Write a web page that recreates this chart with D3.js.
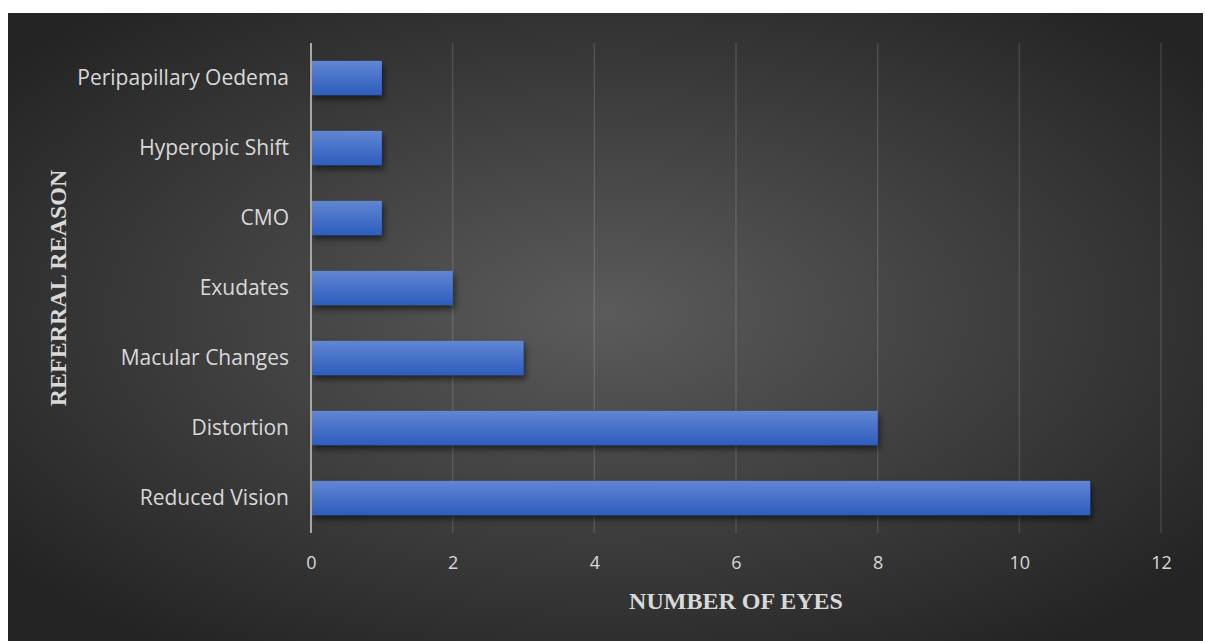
<!DOCTYPE html>
<meta charset="utf-8">
<style>
  body { margin: 0; background: #fff; }
  .tick text { fill: #d9d9d9; font-family: "Open Sans", Lato, sans-serif; }
  .title { fill: #d9d9d9; font-family: "Liberation Serif", "Times New Roman", serif; font-weight: bold; font-size: 24px; }
</style>
<svg width="1205" height="641"></svg>
<script src="https://d3js.org/d3.v7.min.js"></script>
<script>
  // data, bottom to top as drawn
  var reasons = ["Reduced Vision", "Distortion", "Macular Changes", "Exudates", "CMO", "Hyperopic Shift", "Peripapillary Oedema"];
  var eyes = [11, 8, 3, 2, 1, 1, 1];
  var xTicks = [0, 2, 4, 6, 8, 10, 12];

  var svg = d3.select("svg"),
    box = {x: 8, y: 13, w: 1195, h: 628};

  var defs = svg.append("defs");
  var bg = defs.append("radialGradient").attr("id", "bg")
    .attr("cx", "50%").attr("cy", "48%").attr("r", "65%");
  bg.append("stop").attr("offset", "0%").attr("stop-color", "#5b5b5b");
  bg.append("stop").attr("offset", "100%").attr("stop-color", "#232323");

  var barGrad = defs.append("linearGradient").attr("id", "barGrad")
    .attr("x1", 0).attr("y1", 0).attr("x2", 0).attr("y2", 1);
  barGrad.append("stop").attr("offset", "0%").attr("stop-color", "#6186d3");
  barGrad.append("stop").attr("offset", "100%").attr("stop-color", "#2e5dbd");

  var shadow = defs.append("filter").attr("id", "shadow")
    .attr("x", "-5%").attr("y", "-20%").attr("width", "115%").attr("height", "160%");
  shadow.append("feDropShadow").attr("dx", 2).attr("dy", 4).attr("stdDeviation", 3)
    .attr("flood-color", "#000").attr("flood-opacity", 0.55);

  svg.append("rect")
    .attr("x", box.x).attr("y", box.y)
    .attr("width", box.w).attr("height", box.h)
    .attr("fill", "url(#bg)");

  var x = d3.scaleLinear().domain([0, 12]).range([311, 1161]);
  var y = d3.scaleBand().domain(reasons).range([533, 43]).paddingInner(0.51).paddingOuter(0.255);

  // gridlines
  svg.append("g")
    .selectAll("line")
    .data(xTicks.slice(1))
    .enter().append("line")
    .attr("x1", function(d) { return x(d); })
    .attr("x2", function(d) { return x(d); })
    .attr("y1", 43).attr("y2", 533)
    .attr("stroke", "#fff")
    .attr("stroke-opacity", 0.13)
    .attr("stroke-width", 1.5);

  svg.append("g")
    .selectAll("rect")
    .data(reasons)
    .enter().append("rect")
    .attr("x", x(0))
    .attr("y", function(d) { return y(d); })
    .attr("width", function(d, i) { return x(eyes[i]) - x(0); })
    .attr("height", y.bandwidth())
    .attr("fill", "url(#barGrad)")
    .attr("filter", "url(#shadow)");

  // y axis line
  svg.append("line")
    .attr("x1", x(0)).attr("x2", x(0))
    .attr("y1", 43).attr("y2", 533)
    .attr("stroke", "#a6a6a6")
    .attr("stroke-width", 2);

  var yAxis = svg.append("g")
    .attr("transform", "translate(" + (x(0) - 22) + ",0)")
    .call(d3.axisLeft(y).tickSize(0).tickPadding(0));
  yAxis.select(".domain").remove();
  yAxis.selectAll("text").style("font-size", "21px").attr("dy", "0.35em");

  var xAxis = svg.append("g")
    .attr("transform", "translate(0,556)")
    .call(d3.axisBottom(x).tickValues(xTicks).tickSize(0).tickPadding(0));
  xAxis.select(".domain").remove();
  xAxis.selectAll("text").style("font-size", "18px").attr("dy", "0.71em");

  svg.append("text")
    .attr("class", "title")
    .attr("x", x(6)).attr("y", 609)
    .attr("text-anchor", "middle")
    .text("NUMBER OF EYES");

  svg.append("text")
    .attr("class", "title")
    .attr("transform", "translate(66,288) rotate(-90)")
    .attr("text-anchor", "middle")
    .text("REFERRAL REASON");
</script>
